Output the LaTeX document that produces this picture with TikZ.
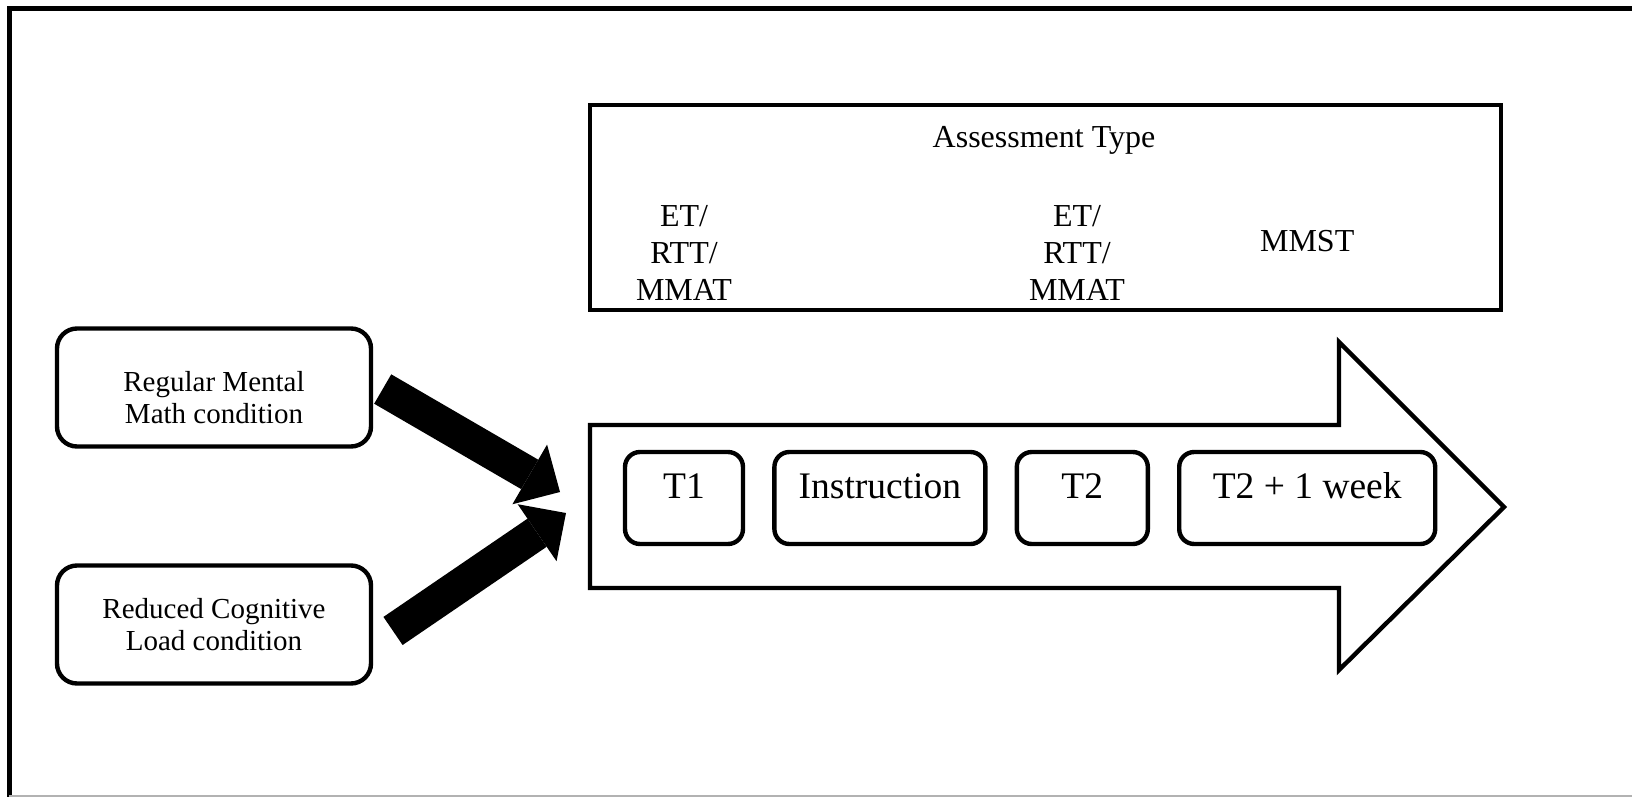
\documentclass[tikz,border=0pt]{standalone}
\usepackage{fontspec}
\setmainfont{Liberation Serif}
\usetikzlibrary{positioning,arrows.meta,calc}

\begin{document}
\begin{tikzpicture}[x=0.5pt, y=-0.5pt, node distance=13.5pt,
    stage/.style={draw, line width=2.2pt, rounded corners=7.5pt, minimum height=46pt,
                  text height=9pt, text depth=9pt, font=\fontsize{18.75}{22}\selectfont},
    cond/.style={draw, line width=2.2pt, rounded corners=10pt, minimum width=157pt,
                 minimum height=59pt, align=center, font=\fontsize{14.5}{16}\selectfont},
    tests/.style={align=center, inner sep=0pt, font=\fontsize{16}{18.5}\selectfont},
    fat/.style={line width=17pt, -{Triangle[width=34.5pt, length=17.5pt, line width=0pt]}}]

    \useasboundingbox (0,0) rectangle (1632,797);
    \draw[line width=2.5pt] (1640,9) -- (9,9) -- (9,805);
    \draw[black!30, line width=1pt] (9,796) -- (1640,796);

    \node (assess) [draw, line width=2.2pt, minimum width=455.5pt, minimum height=102.5pt] at (1045.5,207.5) {};
    \node (asstype) [tests, anchor=base] at (1044,148) {Assessment Type};

    \draw[line width=2.2pt] (590,425) -- (1339,425) -- (1339,342) -- (1504,507)
        -- (1339,670) -- (1339,588) -- (590,588) -- cycle;

    \node (tone) [stage, minimum width=59pt] at (684,498) {T1};
    \node (instr) [stage, minimum width=105.5pt, right=of tone] {Instruction};
    \node (ttwo) [stage, minimum width=65.5pt, right=of instr] {T2};
    \node (tdelay) [stage, minimum width=128pt, right=of ttwo] {T2 + 1 week};

    \node (pretest) [tests] at (tone |- 0,253) {ET/\\RTT/\\MMAT};
    \node (posttest) [tests] at (1077,253) {ET/\\RTT/\\MMAT};
    \node (mmst) [tests, anchor=base] at (tdelay |- 0,251.7) {MMST};

    \node (regular) [cond] at (214,387.5) {\rule{0pt}{20pt}Regular Mental\\Math condition};
    \node (reduced) [cond] at (214,624.5) {Reduced Cognitive\\Load condition};

    \coordinate (tipA) at (560,492);
    \coordinate (tipB) at (566,513);

    \path[fat, shorten <=5.5pt] ([yshift=2pt]regular.east) edge (tipA);
    \path[fat, shorten <=12pt] ([yshift=-10pt]reduced.east) edge (tipB);
\end{tikzpicture}
\end{document}
